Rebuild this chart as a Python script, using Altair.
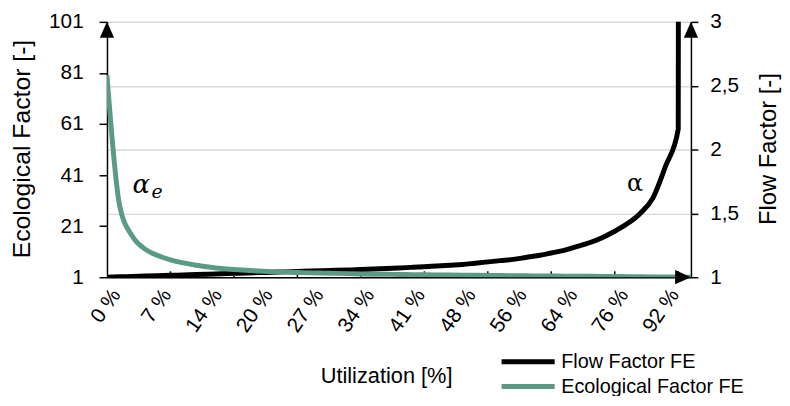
import altair as alt
import pandas as pd

# ---------------- data ----------------
# 47 categories on the utilization axis (Excel category axis, labels every 4th point)
flow_factor = [1.000, 1.003, 1.006, 1.009, 1.012, 1.015, 1.018, 1.021, 1.024, 1.027,
               1.030, 1.033, 1.036, 1.039, 1.042, 1.045, 1.048, 1.051, 1.054, 1.057,
               1.060, 1.064, 1.068, 1.072, 1.077, 1.082, 1.088, 1.094, 1.100, 1.110,
               1.120, 1.130, 1.140, 1.155, 1.170, 1.190, 1.210, 1.240, 1.270, 1.310,
               1.360, 1.420, 1.500, 1.620, 1.870, 2.160, 100.0]
eco_factor = [80, 29, 17, 12, 9.5, 7.8, 6.6, 5.7, 5.0, 4.4,
              4.0, 3.7, 3.4, 3.2, 3.0, 2.85, 2.7, 2.6, 2.5, 2.4,
              2.3, 2.2, 2.15, 2.1, 2.0, 1.95, 1.9, 1.85, 1.8, 1.75,
              1.7, 1.65, 1.6, 1.55, 1.5, 1.47, 1.43, 1.4, 1.35, 1.3,
              1.27, 1.22, 1.18, 1.13, 1.1, 1.05, 1.0]
tick_labels = ["0 %", "7 %", "14 %", "20 %", "27 %", "34 %", "41 %", "48 %",
               "56 %", "64 %", "76 %", "92 %"]
label_step = 4
tick_step = 5
eco_ticks = [1, 21, 41, 61, 81, 101]
flow_ticks = [1, 1.5, 2, 2.5, 3]
series_names = ["Flow Factor FE", "Ecological Factor FE"]
series_colors = ["#000000", "#5B9A84"]

# annotation labels (position in data units)
eco_annot = pd.DataFrame({"idx": [2.7], "eco": [37.0], "t": ["α"]})
eco_annot_sub = pd.DataFrame({"idx": [3.95], "eco": [34.5], "t": ["e"]})
flow_annot = pd.DataFrame({"idx": [41.6], "flow": [1.73], "t": ["α"]})

n = len(flow_factor)
assert n == len(eco_factor)
idx = list(range(n))
long_df = pd.DataFrame({
    "idx": idx + idx,
    "value": flow_factor + eco_factor,
    "series": [series_names[0]] * n + [series_names[1]] * n,
})
ticks_df = pd.DataFrame({"idx": list(range(tick_step, n, tick_step))})
one = pd.DataFrame({"a": [0]})

W, H = 590, 258
FONT = "Liberation Sans"

label_expr = "[" + ",".join(f"'{t}'" for t in tick_labels) + f"][round(datum.value/{label_step})]"

x_scale = alt.Scale(domain=[0, n - 1], nice=False, zero=False)
x_axis = alt.Axis(
    values=[i * label_step for i in range(len(tick_labels))], labelExpr=label_expr,
    labelAngle=305, labelAlign="right", labelBaseline="middle", labelOffset=9,
    labelPadding=14, ticks=False, grid=False, labelFlush=False, labelOverlap=False,
    domainColor="black", domainWidth=1.5, labelFontSize=21, labelColor="black",
    title="Utilization [%]", titleX=282, titleY=106, titleAlign="center",
    titleBaseline="alphabetic", titleFontSize=22, titleFontWeight="normal",
    titleColor="black")
x_enc = alt.X("idx:Q", scale=x_scale, axis=x_axis)

# legend line symbol: a wide custom path so the row height stays small
color_enc = alt.Color(
    "series:N",
    scale=alt.Scale(domain=series_names, range=series_colors),
    legend=alt.Legend(title=None, orient="none", legendX=414, legendY=332,
                      symbolType="M-3,0H3", symbolSize=320, symbolStrokeWidth=5,
                      labelFontSize=20, labelFont=FONT, labelColor="black",
                      labelLimit=400, labelOffset=22, rowPadding=3,
                      direction="vertical"))

eco_scale = alt.Scale(domain=[1, 101], nice=False, zero=False)
eco_axis = alt.Axis(
    orient="left", values=eco_ticks, grid=False, tickSize=8, tickColor="black",
    tickWidth=1.5, domainColor="black", domainWidth=1.5, labelPadding=16,
    labelFontSize=21, labelColor="black", labelOverlap=False, labelFlush=False,
    title="Ecological Factor [-]", titleX=-86, titleY=128, titleAngle=270,
    titleAlign="center", titleBaseline="middle", titleFontSize=25,
    titleFontWeight="normal", titleColor="black")

flow_scale = alt.Scale(domain=[1, 3], nice=False, zero=False)
flow_axis = alt.Axis(
    orient="right", values=flow_ticks,
    labelExpr="replace(toString(datum.value), '.', ',')",
    grid=True, gridColor="#D9D9D9", gridWidth=1.5, tickSize=7, tickColor="black",
    tickWidth=1.5, domainColor="black", domainWidth=1.5, labelPadding=12,
    labelFontSize=21, labelColor="black", labelOverlap=False, labelFlush=False,
    title="Flow Factor [-]", titleX=78, titleY=128, titleAngle=270,
    titleAlign="center", titleBaseline="middle", titleFontSize=24,
    titleFontWeight="normal", titleColor="black")

eco_line = alt.Chart(long_df).transform_filter(
    alt.datum.series == series_names[1]
).mark_line(clip=True, strokeWidth=5, interpolate="monotone").encode(
    x=x_enc, y=alt.Y("value:Q", scale=eco_scale, axis=eco_axis), color=color_enc)

eco_a = alt.Chart(eco_annot).mark_text(
    font="DejaVu Serif", fontStyle="italic", fontSize=26, color="black",
    align="center", baseline="middle").encode(
    x=x_enc, y=alt.Y("eco:Q", scale=eco_scale, axis=eco_axis), text="t:N")
eco_e = alt.Chart(eco_annot_sub).mark_text(
    font="DejaVu Serif", fontStyle="italic", fontSize=19, color="black",
    align="center", baseline="middle").encode(
    x=x_enc, y=alt.Y("eco:Q", scale=eco_scale, axis=eco_axis), text="t:N")

flow_line = alt.Chart(long_df).transform_filter(
    alt.datum.series == series_names[0]
).mark_line(clip=True, strokeWidth=5, interpolate="monotone").encode(
    x=x_enc, y=alt.Y("value:Q", scale=flow_scale, axis=flow_axis), color=color_enc)

flow_a = alt.Chart(flow_annot).mark_text(
    font="DejaVu Serif", fontSize=24, color="black",
    align="center", baseline="middle").encode(
    x=x_enc, y=alt.Y("flow:Q", scale=flow_scale, axis=flow_axis), text="t:N")

x_ticks = alt.Chart(ticks_df).mark_rule(color="black", strokeWidth=1.5).encode(
    x=x_enc, y=alt.value(H - 6), y2=alt.value(H))

arrow_up = "M0,-1L0.9,1L-0.9,1Z"
arrow_right = "M1,0L-1,-0.9L-1,0.9Z"
arr_left = alt.Chart(one).mark_point(shape=arrow_up, filled=True, size=256,
                                     color="black", opacity=1).encode(
    x=alt.value(0), y=alt.value(8))
arr_right = alt.Chart(one).mark_point(shape=arrow_up, filled=True, size=256,
                                      color="black", opacity=1).encode(
    x=alt.value(W), y=alt.value(8))
arr_x = alt.Chart(one).mark_point(shape=arrow_right, filled=True, size=256,
                                  color="black", opacity=1).encode(
    x=alt.value(W - 8), y=alt.value(H))

flow_group = alt.layer(flow_line, flow_a)
eco_group = alt.layer(eco_line, eco_a, eco_e)

chart = alt.layer(x_ticks, flow_group, eco_group, arr_left, arr_right, arr_x).resolve_scale(
    y="independent"
).properties(
    width=W, height=H,
    autosize=alt.AutoSizeParams(type="none"),
    padding={"left": 100, "top": 12, "right": 92, "bottom": 118},
).configure(font=FONT).configure_view(stroke=None).configure_axis(
    labelFont=FONT, titleFont=FONT)

chart.save("out.html", embed_options={"renderer": "svg", "actions": False})
